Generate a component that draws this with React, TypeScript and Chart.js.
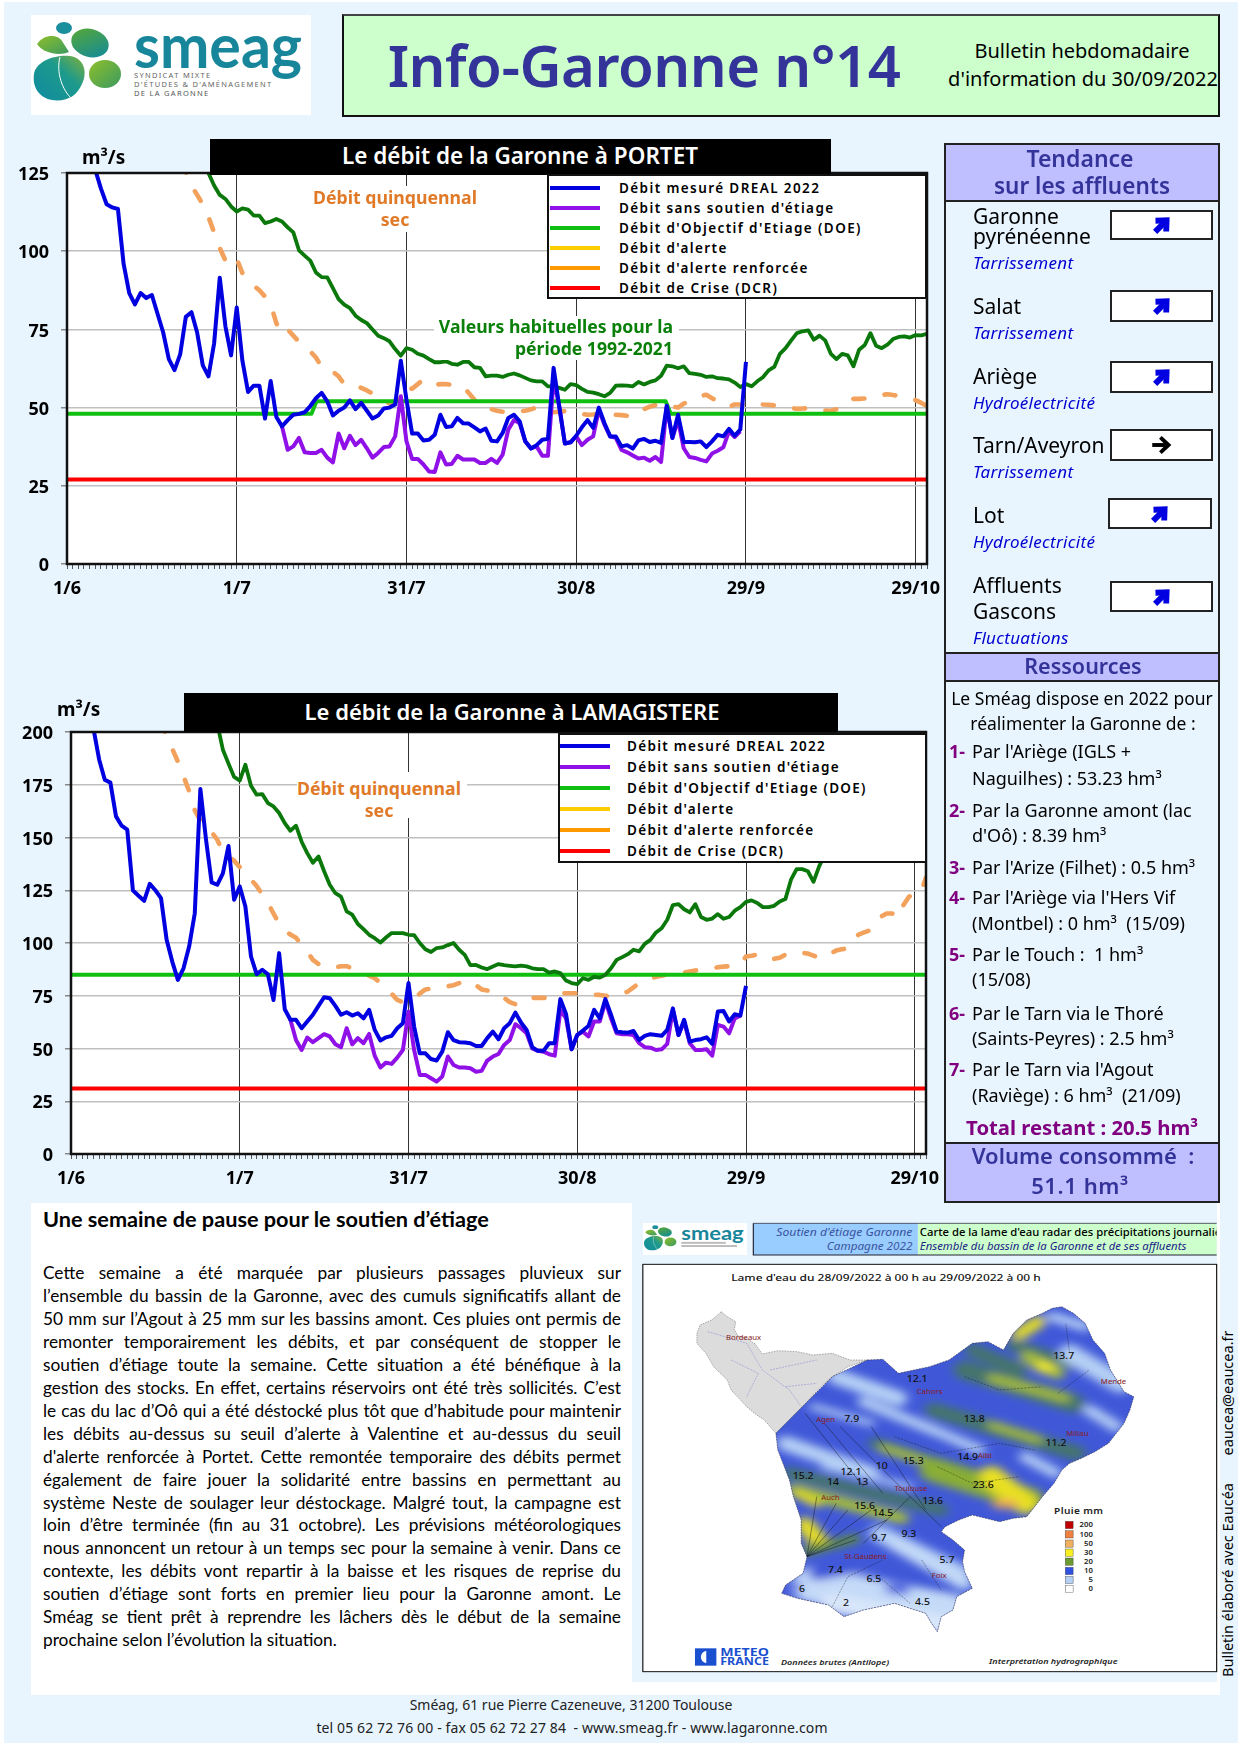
import React, { useEffect, useRef } from "react";
import { Chart, registerables } from "chart.js";
Chart.register(...registerables);

// ---------- DATA ----------
const tickDays = [0, 30, 60, 90, 120, 150];
const tickLabels = ["1/6", "1/7", "31/7", "30/8", "29/9", "29/10"];

const legendNames = ["Débit mesuré DREAL 2022", "Débit sans soutien d'étiage", "Débit d'Objectif d'Etiage (DOE)", "Débit d'alerte", "Débit d'alerte renforcée", "Débit de Crise (DCR)"];
const legendColors = ["#0000e0", "#9010e8", "#10c010", "#ffcc00", "#ff9900", "#ff0000"];

// Portet — each series starts on day offset given by its *Start
const portetBlueStart = 4;
const portetBlue = [134, 126, 120, 115, 114, 113.5, 96, 86.6, 83, 86.6, 85, 86, 80, 74, 65.5, 62, 67, 79, 80.5, 74, 63.5, 60, 70.5, 91.5, 76, 66.7, 82, 65, 55, 57, 57, 46.5, 58.5, 47, 44, 46, 47.7, 48, 48.5, 50.5, 53, 54.7, 52, 47.5, 49, 50, 52.3, 49.5, 51.5, 49, 46.5, 47.5, 49.7, 50, 51, 65, 52.5, 41.7, 41.7, 39.5, 39.7, 41.3, 47.7, 43.8, 44, 46.7, 45, 44.9, 43.7, 42.4, 43.3, 39.4, 39.2, 41.9, 46.7, 47.7, 45.6, 39.2, 36.9, 38, 39.7, 40, 62.7, 50.4, 38.5, 38.9, 41, 43.7, 46, 43.5, 50, 45, 40.8, 40.8, 37.6, 38, 36.9, 39.5, 40, 39, 39.4, 38.7, 50.6, 40.3, 47.7, 39, 39, 38.9, 39.2, 37.4, 39.2, 41.3, 40.8, 43.2, 41, 43, 64.6];
const portetPurpleStart = 38;
const portetPurple = [44, 36.5, 37.6, 40.3, 35.7, 35.5, 35.5, 36.5, 34, 32.5, 41.7, 37, 41, 38, 39.7, 37, 34, 35.5, 37.4, 37.6, 40.8, 53.6, 39.2, 33.6, 33.6, 31.8, 29.6, 29.4, 35.7, 31.8, 32, 34.6, 33.4, 33.4, 33.4, 32.3, 32.3, 33.6, 32.3, 35, 43, 46, 45, 39.2, 37, 37.6, 34.6, 34.6, 59, 50.4, 38.5, 38.9, 40.8, 38, 39.7, 40.8, 49.3, 44.5, 40.8, 40.3, 36.5, 35.7, 34.7, 33.7, 34, 33, 34.2, 32.6, 50.4, 40.3, 46, 37, 34.2, 33.9, 33.3, 32.8, 35.3, 36.2, 37.3, 42.4, 40.6, 42.4];
const portetHabStart = 24;
const portetHab = [130, 125, 121, 118, 116.7, 114.3, 112.7, 113.7, 113.3, 111.4, 111.4, 109, 109.5, 110.3, 109.5, 107.6, 106, 100.3, 98.6, 97, 93.2, 91.7, 91.6, 88.2, 84.7, 82.9, 81.8, 79.4, 78, 77, 75, 73, 72.2, 71.2, 68.7, 66.6, 69, 68.5, 67.2, 66.6, 65.5, 64.5, 64.5, 64.8, 64, 63.7, 64.6, 64.6, 62.9, 62.7, 60, 60.2, 60.2, 59.8, 60.5, 60.9, 60.3, 59.5, 58.7, 58.4, 58.4, 56.8, 56.8, 56.3, 55.7, 57.5, 57.2, 56, 55, 54.8, 54.3, 53.6, 54.7, 57, 57.1, 57, 56.8, 58.2, 57.4, 58.2, 58.7, 60.2, 63.4, 63.2, 62.6, 63.2, 61, 60.8, 60.5, 59.8, 60, 59.4, 59.3, 59, 58, 56.6, 57.5, 56.8, 58.4, 59.7, 61.9, 63, 67.2, 69, 71.5, 73.8, 74.4, 74.7, 71.7, 73, 71.5, 67.2, 65.5, 67.2, 66.7, 63.2, 68.5, 70, 73.8, 69.8, 69, 70.1, 71.9, 72.6, 72.8, 72.4, 73.2, 73.1, 73.6];
const portetQuinqStart = 20;
const portetQuinq = [128, 125.5, 121, 118, 115, 111, 106, 101, 97, 95.7, 97.5, 93, 91, 89, 87.5, 85.5, 83, 77, 73.6, 75, 73, 71, 69.5, 68, 66, 63, 62, 61.5, 60, 57.5, 57, 57, 56.3, 55.5, 54.5, 53.5, 52.5, 51.3, 52, 55.7, 56.5, 56, 57.5, 59, 58, 57.3, 57.5, 57.5, 57.3, 57, 56.8, 54.7, 52.5, 50.5, 50, 49.5, 49, 48.7, 48.5, 48.6, 48.8, 49, 49.5, 50, 50, 49, 48.5, 48.7, 48.9, 49, 48.6, 48, 47.7, 47.8, 48, 47.9, 47.8, 47.7, 47.6, 47.4, 47.2, 47.7, 49.5, 50.3, 50.8, 51, 51, 50.4, 50, 51.3, 52, 53, 53.7, 54.1, 53, 52, 50.8, 50.2, 51, 51, 50.7, 51, 51.3, 51, 50.9, 50.7, 50.6, 50.3, 49.9, 49.6, 49.7, 49.8, 49.9, 49.5, 49.1, 49, 49.5, 50.4, 52.3, 52.8, 52.8, 52.9, 53, 53.5, 54, 54.3, 54, 53.8, 53.6, 53, 52.4, 51.5, 50.5];
const portetDoeDays = [0, 43.2, 44.1, 105.8, 106.7, 152];
const portetDoe = [48, 48, 52, 52, 48, 48];
const portetDcrDays = [0, 152];
const portetDcr = [27, 27];

// Lamagistère
const lamaBlueStart = 3;
const lamaBlue = [215, 201.5, 187, 177.4, 176, 160, 155.6, 153.7, 125, 122.4, 120, 128, 125, 121.3, 101.5, 91.2, 82.5, 88, 98.3, 114, 173, 149, 128.7, 127.6, 133, 146, 120.5, 126.8, 117.3, 93.6, 85.2, 87.3, 85.2, 73, 95.2, 68.6, 63.6, 63.6, 59.6, 62.8, 66, 70.2, 74.3, 73.8, 70.2, 66, 67.2, 65.6, 66.7, 64.3, 68.3, 58.8, 53.8, 55.3, 56, 59.6, 62, 81, 60.4, 47.7, 47.7, 45, 44.3, 48.5, 57.7, 54, 53, 52.8, 52.5, 51.2, 51.2, 54.9, 58, 54.4, 59.6, 62, 67, 62.3, 58.8, 50.6, 48.9, 48.9, 52.5, 52.5, 73.4, 66.4, 49.6, 56.4, 58.5, 60.7, 68.3, 64.3, 73.4, 66, 58, 57.7, 57.5, 58.3, 54, 56, 56.8, 56.4, 56, 58.8, 69, 56.4, 63.6, 53.3, 54, 54.4, 55.3, 52.2, 67.5, 67.8, 62.8, 66.2, 65.6, 79.7];
const lamaPurpleStart = 39;
const lamaPurple = [63.6, 54, 49.3, 55.2, 53, 54.9, 56.8, 55.7, 52, 50.6, 59.6, 52, 54.9, 52.5, 56.9, 46.5, 41, 43.3, 42.7, 45.7, 49.3, 67.5, 49.3, 37.5, 37.5, 35.9, 34.3, 36.7, 46.2, 42.2, 41, 41, 40.6, 39, 39.4, 44.3, 46.2, 47.4, 51.7, 54, 61.5, 59.6, 57.2, 50, 48.9, 48.5, 47.3, 46.6, 68.3, 64.3, 49.6, 56.4, 58, 55.7, 62.8, 62.8, 72.3, 64.3, 57.2, 56.8, 56.8, 56.4, 52.5, 50.6, 50.4, 49.3, 49.6, 52.2, 68.3, 56.4, 62.8, 52.5, 49.3, 49.3, 49.6, 46.6, 61.2, 60.4, 57.2, 64.3, 65.5];
const lamaHabStart = 26;
const lamaHab = [204, 191.6, 185, 178.7, 177, 184.5, 174.5, 170.3, 170.6, 166.3, 164.7, 161.6, 156.8, 153.2, 155.6, 148, 142.6, 138, 141, 134, 127.6, 123.6, 122, 115, 113.4, 109, 106.6, 103.9, 102.3, 100.2, 102.6, 104.7, 104.7, 104.7, 103.9, 103.7, 100, 97, 95.7, 97.6, 97.9, 99, 100, 96.8, 94.4, 89.5, 89.6, 88.4, 87.6, 88.9, 90, 89.5, 89.2, 88.9, 89.3, 88.9, 88, 87.6, 87.6, 86, 86.5, 85.7, 82.2, 81, 80.5, 83.3, 82.5, 84, 83.6, 84.9, 88, 92, 93.3, 94.7, 96.8, 96, 99.6, 101.5, 105, 107, 111, 118, 118.4, 116, 114.5, 118.4, 112.3, 111, 111.6, 113.7, 111.5, 112.3, 115.3, 117, 119.5, 120.2, 119, 117, 117, 117.6, 119.7, 120.8, 130, 135, 135, 134, 129, 136.3, 142, 146];
const lamaQuinqStart = 16;
const lamaQuinq = [205, 198, 192, 186, 179, 172, 163, 158, 154, 152.5, 149, 143, 141, 139, 136, 132.6, 130, 127, 123, 119, 114, 109, 106, 104, 102.5, 99, 96, 92, 90, 89, 88.5, 88.5, 89, 89, 88, 87, 86, 84.5, 83.3, 81, 78.5, 76, 73, 72, 72.5, 73.5, 76, 78, 78.3, 78.6, 79, 79.5, 80, 81, 82, 82, 80, 78, 77.5, 77, 76.5, 74, 72, 71, 70.7, 72, 74, 74, 74, 74, 75, 76, 76.2, 76.2, 76.2, 76.2, 76, 75.5, 75.4, 75, 74.5, 75, 76, 77, 79, 81, 82, 83, 84, 84.5, 85, 85, 85.5, 86, 86.5, 87, 87.3, 87.8, 88.2, 88.5, 88.8, 89, 89.2, 90, 93.6, 94, 94.5, 94.9, 94, 92.5, 93, 94.5, 95.5, 95.5, 95.3, 95, 94, 93, 93, 95, 96.4, 97, 97.5, 101, 104, 105, 106, 110, 112.5, 114, 114, 112, 118, 122, 123, 123.3, 131];
const lamaDoeDays = [0, 152];
const lamaDoe = [85, 85];
const lamaDcrDays = [0, 152];
const lamaDcr = [31, 31];

// ---------- HELPERS ----------
const SANS = '"Noto Sans", sans-serif';
const PAGE = "#e8f5ff";
const NAVY = "#333399";

const fromStart = (start: number, vals: number[]) => vals.map((y, i) => ({ x: start + i, y }));
const fromDays = (days: number[], vals: number[]) => vals.map((y, i) => ({ x: days[i], y }));

function T({ x, y, children, size = 16, weight = 400, color = "#000", align = "left", ls = 0, italic = false, font = SANS, rot = 0, bg }: any) {
  const tx = align === "center" ? "-50%" : align === "right" ? "-100%" : "0";
  return (
    <div style={{ position: "absolute", left: x, top: y, transform: `translate(${tx},-50%)${rot ? ` rotate(${rot}deg)` : ""}`, whiteSpace: "pre", fontFamily: font, fontSize: size, fontWeight: weight, color, letterSpacing: ls, fontStyle: italic ? "italic" : "normal", lineHeight: 1.1, background: bg }}>
      {children}
    </div>
  );
}
const Box = ({ x, y, w, h, style }: any) => <div style={{ position: "absolute", left: x, top: y, width: w, height: h, boxSizing: "border-box", ...style }} />;

const framePlugin = {
  id: "frame",
  beforeDraw(c: any) {
    const a = c.chartArea;
    c.ctx.save();
    c.ctx.fillStyle = "#fff";
    c.ctx.fillRect(a.left, a.top, a.width, a.height);
    c.ctx.restore();
  },
  afterDraw(c: any) {
    const a = c.chartArea;
    const g = c.ctx;
    g.save();
    g.strokeStyle = "#111";
    g.lineWidth = 2.5;
    g.strokeRect(a.left, a.top, a.width, a.height);
    g.restore();
  },
};

function GarChart({ left, top, width, height, area, yMax, blue, purple, hab, quinq, doe, dcr }: any) {
  const ref = useRef<HTMLCanvasElement>(null);
  useEffect(() => {
    const line = (label: string, data: any[], color: string, w: number, extra: any = {}) => ({ type: "line", label, data, borderColor: color, backgroundColor: color, borderWidth: w, pointRadius: 0, tension: 0, borderJoinStyle: "round", ...extra });
    const chart = new Chart(ref.current as any, {
      type: "line",
      data: {
        datasets: [
          line(legendNames[0], blue, "#0000e0", 4),
          line(legendNames[1], purple, "#9010e8", 4),
          line("Valeurs habituelles 1992-2021", hab, "#0a780a", 3.8),
          line(legendNames[5], dcr, "#ff0000", 4),
          line(legendNames[2], doe, "#10c010", 4),
          line("Débit quinquennal sec", quinq, "#f2a25c", 4.6, { borderDash: [11, 20.6], borderCapStyle: "round" }),
        ] as any,
      },
      options: {
        animation: false,
        responsive: false,
        parsing: false as any,
        layout: { padding: { top: area.top, right: width - area.right, left: 0, bottom: 0 } },
        plugins: { legend: { display: false }, tooltip: { enabled: false } },
        scales: {
          x: {
            type: "linear",
            min: 0,
            max: 152,
            afterFit: (s: any) => { s.height = height - area.bottom; },
            afterBuildTicks: (s: any) => { const t = []; for (let d = 0; d <= 152; d++) t.push({ value: d }); s.ticks = t; },
            grid: {
              drawTicks: true,
              tickLength: 5,
              tickColor: "#555",
              color: (c: any) => (tickDays.includes(c.tick?.value) ? "#333" : "rgba(0,0,0,0)"),
              lineWidth: 1,
            },
            border: { display: false },
            ticks: {
              autoSkip: false,
              maxRotation: 0,
              padding: 9,
              color: "#000",
              font: { family: SANS, size: 18, weight: "bold" },
              callback: (v: any) => { const i = tickDays.indexOf(v); return i >= 0 ? tickLabels[i] : ""; },
            },
          },
          y: {
            min: 0,
            max: yMax,
            afterFit: (s: any) => { s.width = area.left; },
            grid: { color: "#c0c0c0", lineWidth: 1.5, tickLength: 6, tickColor: "#888" },
            border: { display: false },
            ticks: { stepSize: 25, color: "#000", padding: 12, labelOffset: 2, font: { family: SANS, size: 18, weight: "bold" } },
          },
        },
      },
      plugins: [framePlugin],
    } as any);
    return () => chart.destroy();
  }, []);
  return <canvas ref={ref} width={width} height={height} style={{ position: "absolute", left, top, width, height }} />;
}

function Legend({ x, y, w, h, rows, swX, txtX, ls }: any) {
  return (
    <>
      <Box x={x} y={y} w={w} h={h} style={{ background: "#fff", border: "2.5px solid #111" }} />
      {legendNames.map((n, i) => (
        <React.Fragment key={n}>
          <Box x={swX} y={rows[i] - 2.5} w={50} h={4} style={{ background: legendColors[i] }} />
          <T x={txtX} y={rows[i]} size={13.5} weight={600} ls={ls}>{n}</T>
        </React.Fragment>
      ))}
    </>
  );
}

function Logo({ x, y, w, h, full = true }: any) {
  const id = full ? "a" : "b";
  return (
    <svg style={{ position: "absolute", left: x, top: y, width: w, height: h }} viewBox="31 15 280 100" preserveAspectRatio="none">
      <defs>
        <linearGradient id={id + "g1"} x1="0" y1="1" x2="1" y2="0"><stop offset="0" stopColor="#0f8aa0" /><stop offset="0.6" stopColor="#1d9a8c" /><stop offset="1" stopColor="#80b038" /></linearGradient>
        <linearGradient id={id + "g2"} x1="0" y1="0" x2="1" y2="1"><stop offset="0" stopColor="#8fbf2a" /><stop offset="1" stopColor="#3a9a60" /></linearGradient>
        <linearGradient id={id + "g3"} x1="0" y1="0" x2="1" y2="1"><stop offset="0" stopColor="#5aaa30" /><stop offset="1" stopColor="#0f88a0" /></linearGradient>
      </defs>
      <rect x="31" y="15" width="280" height="100" fill="#fff" />
      <path d="M34 74C36 60 58 54 70 56C84 58 88 72 82 84C76 98 64 102 52 100C40 98 32 88 34 74Z" fill={`url(#${id}g1)`} />
      <path d="M60 57C56 72 62 90 72 99" stroke="#fff" strokeWidth="1" fill="none" />
      <ellipse cx="105" cy="74" rx="16" ry="14" fill={`url(#${id}g2)`} />
      <ellipse cx="90" cy="43" rx="19" ry="14" transform="rotate(15 90 43)" fill={`url(#${id}g3)`} />
      <path d="M37 44C45 33 58 35 62 41L69 52C60 56 44 54 37 44Z" fill={`url(#${id}g2)`} />
      <ellipse cx="64" cy="28" rx="8" ry="6" fill="#1b8f9c" />
      <text x="134" y="68" fontFamily="Lato" fontWeight="700" fontSize="62" fill="#17869b" textLength="168" lengthAdjust="spacingAndGlyphs">smeag</text>
      {full ? <>
        <text x="134" y="78" fontFamily={SANS} fontSize="7.5" fill="#666" letterSpacing="1.3">SYNDICAT MIXTE</text>
        <text x="134" y="87" fontFamily={SANS} fontSize="7.5" fill="#666" letterSpacing="1.3">D'ÉTUDES &amp; D'AMÉNAGEMENT</text>
        <text x="134" y="96" fontFamily={SANS} fontSize="7.5" fill="#555" letterSpacing="1.3">DE LA GARONNE</text>
      </> : <>
        <rect x="134" y="74" width="120" height="6" fill="#bbb" />
        <rect x="134" y="84" width="150" height="6" fill="#bbb" />
      </>}
    </svg>
  );
}

function Arrow({ x, y, dark = false }: any) {
  return (
    <svg style={{ position: "absolute", left: x - 13, top: y - 13, width: 26, height: 26 }} viewBox="0 0 24 24">
      <g transform={dark ? "" : "rotate(-45 12 12)"} fill="none" stroke={dark ? "#000" : "#0000e0"} strokeWidth={dark ? 3.6 : 5.4}>
        <path d="M3 12H18" />
        <path d="M10.5 5L18 12L10.5 19" />
      </g>
    </svg>
  );
}

const affluents = [
  { lines: [["Garonne", 217], ["pyrénéenne", 237]], sub: "Tarrissement", subY: 263, box: [1110, 210, 103, 30], ax: 1162, ay: 225 },
  { lines: [["Salat", 307]], sub: "Tarrissement", subY: 333, box: [1110, 290, 103, 32], ax: 1162, ay: 306 },
  { lines: [["Ariège", 377]], sub: "Hydroélectricité", subY: 403, box: [1110, 361, 103, 32], ax: 1162, ay: 377 },
  { lines: [["Tarn/Aveyron", 446]], sub: "Tarrissement", subY: 472, box: [1110, 429, 103, 32], ax: 1162, ay: 445, dark: true },
  { lines: [["Lot", 516]], sub: "Hydroélectricité", subY: 542, box: [1108, 498, 104, 31], ax: 1160, ay: 514 },
  { lines: [["Affluents", 586], ["Gascons", 612]], sub: "Fluctuations", subY: 638, box: [1110, 581, 103, 31], ax: 1162, ay: 597 },
];

const resourceLines: [string, string, number][] = [
  ["1-", "Par l'Ariège (IGLS +", 752], ["", "Naguilhes) : 53.23 hm³", 779],
  ["2-", "Par la Garonne amont (lac", 811], ["", "d'Oô) : 8.39 hm³", 836],
  ["3-", "Par l'Arize (Filhet) : 0.5 hm³", 868],
  ["4-", "Par l'Ariège via l'Hers Vif", 898], ["", "(Montbel) : 0 hm³  (15/09)", 924],
  ["5-", "Par le Touch :  1 hm³", 955], ["", "(15/08)", 980],
  ["6-", "Par le Tarn via le Thoré", 1014], ["", "(Saints-Peyres) : 2.5 hm³", 1039],
  ["7-", "Par le Tarn via l'Agout", 1070], ["", "(Raviège) : 6 hm³  (21/09)", 1096],
];

const bodyLines = [
  "Cette semaine a été marquée par plusieurs passages pluvieux sur",
  "l’ensemble du bassin de la Garonne, avec des cumuls significatifs allant de",
  "50 mm sur l’Agout à 25 mm sur les bassins amont. Ces pluies ont permis de",
  "remonter temporairement les débits, et par conséquent de stopper le",
  "soutien d’étiage toute la semaine. Cette situation a été bénéfique à la",
  "gestion des stocks. En effet, certains réservoirs ont été très sollicités. C’est",
  "le cas du lac d’Oô qui a été déstocké plus tôt que d’habitude pour maintenir",
  "les débits au-dessus su seuil d’alerte à Valentine et au-dessus du seuil",
  "d'alerte renforcée à Portet. Cette remontée temporaire des débits permet",
  "également de faire jouer la solidarité entre bassins en permettant au",
  "système Neste de soulager leur déstockage. Malgré tout, la campagne est",
  "loin d’être terminée (fin au 31 octobre). Les prévisions météorologiques",
  "nous annoncent un retour à un temps sec pour la semaine à venir. Dans ce",
  "contexte, les débits vont repartir à la baisse et les risques de reprise du",
  "soutien d’étiage sont forts en premier lieu pour la Garonne amont. Le",
  "Sméag se tient prêt à reprendre les lâchers dès le début de la semaine",
  "prochaine selon l’évolution la situation.",
];

const basinGray = "235,305 250,320 272,335 268,358 278,378 300,385 322,402 340,432 380,422 430,425 470,435 520,430 565,450 610,450 560,470 520,500 490,530 460,570 445,590 430,605 400,640 375,670 345,630 322,612 300,590 280,565 260,540 250,510 215,470 195,430 172,400 172,370 180,345 210,330";
const basinMain = "610,450 650,448 690,490 730,480 770,470 820,450 880,400 920,395 960,420 985,370 1020,330 1060,310 1085,295 1110,290 1140,310 1170,340 1190,390 1220,430 1235,480 1270,545 1295,560 1285,600 1270,640 1250,670 1230,700 1195,725 1160,745 1130,760 1110,780 1090,820 1060,860 1040,890 1020,920 985,925 950,935 915,925 880,915 845,930 810,950 800,965 830,990 860,1020 855,1055 860,1085 880,1135 840,1160 830,1200 800,1220 790,1265 775,1240 760,1210 720,1195 680,1180 640,1190 600,1200 550,1220 510,1185 470,1175 430,1165 390,1150 400,1125 445,1090 455,1040 440,1000 440,930 420,860 410,810 395,765 380,720 375,670 430,605 460,570 520,500";
const rainBands: [number, number, number, number, string, number][] = [
  [530, 500, 690, 565, "#b5d0f5", 46], [600, 575, 790, 665, "#b5d0f5", 30], [800, 670, 900, 720, "#b5d0f5", 28], [470, 590, 620, 640, "#b5d0f5", 18],
  [400, 700, 620, 790, "#b5d0f5", 45], [500, 770, 720, 830, "#b5d0f5", 18],
  [410, 790, 800, 900, "#45756a", 36], [630, 700, 900, 800, "#45756a", 34], [650, 715, 800, 770, "#a8c030", 24],
  [780, 780, 1030, 870, "#89ad35", 70], [930, 800, 1015, 880, "#e8e020", 64],
  [780, 600, 1150, 730, "#45756a", 44], [930, 645, 1050, 690, "#a8c030", 22],
  [860, 480, 1140, 580, "#45756a", 56], [930, 505, 1120, 565, "#a8c030", 24], [880, 420, 1000, 480, "#45756a", 40],
  [1000, 372, 1050, 335, "#e8e020", 36], [985, 405, 1130, 460, "#45756a", 36], [1020, 440, 1100, 490, "#a8c030", 34], [1055, 470, 1075, 475, "#f0ec20", 32],
  [1085, 320, 1170, 350, "#b5d0f5", 28], [1130, 430, 1260, 520, "#b5d0f5", 56], [1180, 600, 1250, 650, "#b5d0f5", 32], [1015, 740, 1095, 790, "#b5d0f5", 30],
  [420, 840, 700, 925, "#a8c030", 34], [430, 850, 480, 880, "#e8e020", 24], [450, 945, 490, 1000, "#e8e020", 46], [450, 1025, 580, 985, "#5d8a40", 28],
  [470, 1125, 820, 1205, "#c4daf8", 110], [640, 970, 850, 1090, "#b5d0f5", 50], [520, 1180, 820, 1250, "#d8e6fa", 60], [680, 1000, 860, 1120, "#c4daf8", 40],
  [670, 1135, 705, 1140, "#4a60e0", 30], [400, 1135, 430, 1130, "#4a60e0", 24], [480, 1090, 600, 1065, "#4058d8", 42],
];
const mapNumbers: [string, number, number][] = [["12.1", 738, 507], ["13.7", 1115, 437], ["7.9", 570, 628], ["13.8", 885, 628], ["11.2", 1095, 700], ["14.9", 868, 740], ["15.3", 728, 752], ["10", 647, 768], ["12.1", 568, 785], ["15.2", 445, 797], ["14", 522, 817], ["13", 597, 817], ["23.6", 908, 825], ["13.6", 778, 873], ["15.6", 603, 887], ["14.5", 650, 910], ["9.3", 717, 972], ["9.7", 640, 985], ["5.7", 815, 1050], ["7.4", 528, 1080], ["6.5", 627, 1107], ["6", 442, 1137], ["2", 555, 1180], ["4.5", 752, 1175]];
const mapCities: [string, number, number][] = [["Bordeaux", 292, 383], ["Cahors", 770, 545], ["Mende", 1243, 515], ["Agen", 503, 628], ["Millau", 1150, 670], ["Albi", 912, 737], ["Auch", 515, 862], ["Toulouse", 722, 836], ["St-Gaudens", 605, 1040], ["Foix", 795, 1097]];
const rainScale: [string, string][] = [["200", "#c00000"], ["100", "#f08040"], ["50", "#f0b060"], ["30", "#f8f020"], ["20", "#6a9a30"], ["10", "#3050e0"], ["5", "#b5d0f5"], ["0", "#ffffff"]];
const rainY = [945, 973, 1001, 1028, 1055, 1083, 1110, 1137];

function RainMap() {
  return (
    <svg style={{ position: "absolute", left: 630, top: 1210, width: 610, height: 480 }} viewBox="0 0 1568 1440" preserveAspectRatio="none">
      <defs>
        <clipPath id="bas"><polygon points={basinMain} /></clipPath>
        <clipPath id="hdr"><rect x="0" y="0" width="1508" height="160" /></clipPath>
        <filter id="soft" x="-20%" y="-20%" width="140%" height="140%"><feGaussianBlur stdDeviation="13" /></filter>
      </defs>
      <rect x="33" y="163" width="1475" height="1222" fill="#fff" stroke="#111" strokeWidth="3" />
      <rect x="317" y="40" width="423" height="95" fill="#99ccff" />
      <rect x="740" y="40" width="768" height="95" fill="#ccffcc" />
      <path d="M317 40V135H1508" stroke="#223" strokeWidth="3" fill="none" />
      <path d="M317 40H1508" stroke="#223" strokeWidth="2" fill="none" />
      <g clipPath="url(#hdr)" fontFamily={SANS} fontSize="30">
        <text x="726" y="78" textAnchor="end" fontStyle="italic" fill="#3a55a0" textLength="350" lengthAdjust="spacingAndGlyphs">Soutien d'étiage Garonne</text>
        <text x="726" y="121" textAnchor="end" fontStyle="italic" fill="#3a55a0" textLength="220" lengthAdjust="spacingAndGlyphs">Campagne 2022</text>
        <text x="745" y="78" fontWeight="500" fill="#000" textLength="817" lengthAdjust="spacingAndGlyphs">Carte de la lame d'eau radar des précipitations journalières</text>
        <text x="745" y="121" fontStyle="italic" fill="#228" textLength="685" lengthAdjust="spacingAndGlyphs">Ensemble du bassin de la Garonne et de ses affluents</text>
      </g>
      <text x="260" y="212" fontFamily={SANS} fontSize="28" fontWeight="500" fill="#111" textLength="796" lengthAdjust="spacingAndGlyphs">Lame d'eau du 28/09/2022 à 00 h au 29/09/2022 à 00 h</text>
      <polygon points={basinGray} fill="#dcdcdc" stroke="#666" strokeDasharray="4 3" strokeWidth="1.5" />
      <g stroke="#6a6ad0" strokeWidth="1.2" fill="none" strokeDasharray="5 3">
        <path d="M200 365L300 400L340 480L410 540L440 590M260 450L330 490L300 560M360 480L480 450M400 530L480 520" />
      </g>
      <polygon points={basinMain} fill="#4058d8" />
      <g clipPath="url(#bas)">
        <g filter="url(#soft)">
          {rainBands.map((b, i) => <line key={i} x1={b[0]} y1={b[1]} x2={b[2]} y2={b[3]} stroke={b[4]} strokeWidth={b[5]} strokeLinecap="round" />)}
          <ellipse cx="965" cy="882" rx="36" ry="14" fill="#f0a850" />
        </g>
      </g>
      <polygon points={basinMain} fill="none" stroke="#223" strokeDasharray="5 3" strokeWidth="1.5" />
      <g stroke="#111" strokeWidth="1.2" fill="none">
        <path d="M455 1040L580 990M455 1040L530 880M455 1040L480 860M455 1040L560 900M455 1040L620 900M455 1040L660 930M540 650L720 860M620 650L760 900M450 610L600 830M500 640L650 850M720 860L800 950M720 860L600 1000" />
        <path d="M860 500L950 540L1060 530M680 680L800 730L950 700L1040 720M790 770L880 820L1000 800M1100 550L1180 480M1130 430L1120 340M520 1190L560 1100L650 1050M640 1100L720 1180M750 1050L800 1140" strokeDasharray="6 3" strokeWidth="1" />
      </g>
      <g fontFamily={SANS} fontSize="27" fill="#111" fontWeight="500" textAnchor="middle">
        {mapNumbers.map((n, i) => <text key={i} x={n[1]} y={n[2] + 9}>{n[0]}</text>)}
      </g>
      <g fontFamily={SANS} fontSize="20" fill="#8a1c1c" textAnchor="middle">
        {mapCities.map((n, i) => <text key={i} x={n[1]} y={n[2] + 7}>{n[0]}</text>)}
      </g>
      <text x="1090" y="912" fontFamily={SANS} fontSize="26" fontWeight="600" fill="#222" textLength="126" lengthAdjust="spacing">Pluie mm</text>
      {rainScale.map((r, i) => (
        <g key={r[0]}>
          <rect x="1119" y={rainY[i] - 11} width="20" height="22" fill={r[1]} stroke="#333" />
          <text x="1190" y={rainY[i] + 7} textAnchor="end" fontFamily={SANS} fontSize="20" fontWeight="600" fill="#222">{r[0]}</text>
        </g>
      ))}
      <rect x="167" y="1315" width="55" height="52" fill="#1a50d0" />
      <path d="M196 1322A20 20 0 0 0 196 1360Z" fill="#fff" />
      <text x="232" y="1338" fontFamily={SANS} fontSize="30" fontWeight="700" fill="#1a50d0" textLength="125" lengthAdjust="spacingAndGlyphs">METEO</text>
      <text x="232" y="1366" fontFamily={SANS} fontSize="30" fontWeight="700" fill="#1a50d0" textLength="125" lengthAdjust="spacingAndGlyphs">FRANCE</text>
      <text x="388" y="1366" fontFamily={SANS} fontSize="21" fontStyle="italic" fontWeight="600" fill="#222" textLength="278" lengthAdjust="spacingAndGlyphs">Données brutes (Antilope)</text>
      <text x="923" y="1363" fontFamily={SANS} fontSize="21" fontStyle="italic" fontWeight="600" fill="#222" textLength="330" lengthAdjust="spacingAndGlyphs">Interprétation hydrographique</text>
    </svg>
  );
}

export default function App() {
  useEffect(() => {
    document.body.style.margin = "0";
    document.body.style.background = "#fff";
  }, []);
  return (
    <div style={{ position: "relative", width: 1240, height: 1754, background: "#fff", overflow: "hidden" }}>
      <Box x={4} y={2} w={1234} h={1741} style={{ background: PAGE }} />

      {/* Header */}
      <Logo x={31} y={15} w={280} h={100} />
      <Box x={342} y={14} w={878} h={103} style={{ background: "#ccffcc", border: "2px solid #111", borderTopColor: "#444" }} />
      <T x={644} y={65} size={58} weight={600} color={NAVY} align="center" ls={-0.5}>Info-Garonne n°14</T>
      <T x={1082} y={51} size={20} align="center">Bulletin hebdomadaire</T>
      <T x={1083} y={79} size={20} align="center">d'information du 30/09/2022</T>

      {/* Portet */}
      <GarChart left={0} top={130} width={945} height={480} area={{ left: 67, top: 43, right: 927, bottom: 434 }} yMax={125}
        blue={fromStart(portetBlueStart, portetBlue)} purple={fromStart(portetPurpleStart, portetPurple)} hab={fromStart(portetHabStart, portetHab)} quinq={fromStart(portetQuinqStart, portetQuinq)} doe={fromDays(portetDoeDays, portetDoe)} dcr={fromDays(portetDcrDays, portetDcr)} />
      <Box x={210} y={139} w={621} h={36} style={{ background: "#000" }} />
      <T x={520} y={156} size={22.5} weight={600} color="#fff" align="center">Le débit de la Garonne à PORTET</T>
      <T x={82} y={157} size={19} weight={700}>m³/s</T>
      <Legend x={547} y={174} w={380} h={125} rows={[188, 208, 228, 248, 268, 288]} swX={550} txtX={619} ls={1.4} />
      <Box x={313} y={186} w={165} h={46} style={{ background: "#fff" }} />
      <T x={395} y={198} size={17.7} weight={700} color="#e07a28" align="center">Débit quinquennal</T>
      <T x={395} y={220} size={17.7} weight={700} color="#e07a28" align="center">sec</T>
      <Box x={434} y={316} w={245} h={44} style={{ background: "#fff" }} />
      <T x={673} y={327} size={17.6} weight={700} color="#0a800a" align="right">Valeurs habituelles pour la</T>
      <T x={673} y={349} size={17.6} weight={700} color="#0a800a" align="right">période 1992-2021</T>

      {/* Lamagistere */}
      <GarChart left={0} top={690} width={945} height={510} area={{ left: 71, top: 42, right: 926, bottom: 464 }} yMax={200}
        blue={fromStart(lamaBlueStart, lamaBlue)} purple={fromStart(lamaPurpleStart, lamaPurple)} hab={fromStart(lamaHabStart, lamaHab)} quinq={fromStart(lamaQuinqStart, lamaQuinq)} doe={fromDays(lamaDoeDays, lamaDoe)} dcr={fromDays(lamaDcrDays, lamaDcr)} />
      <Box x={184} y={693} w={654} h={39} style={{ background: "#000" }} />
      <T x={512} y={711} size={22} weight={600} color="#fff" align="center">Le débit de la Garonne à LAMAGISTERE</T>
      <T x={57} y={709} size={19} weight={700}>m³/s</T>
      <Legend x={558} y={733} w={369} h={130} rows={[746, 767, 788, 809, 830, 851]} swX={560} txtX={627} ls={1.3} />
      <Box x={297} y={772} w={170} h={46} style={{ background: "#fff" }} />
      <T x={379} y={789} size={17.7} weight={700} color="#e07a28" align="center">Débit quinquennal</T>
      <T x={379} y={811} size={17.7} weight={700} color="#e07a28" align="center">sec</T>

      {/* Right panel */}
      <Box x={944} y={143} w={276} h={1060} style={{ border: "2px solid #222" }} />
      <Box x={944} y={143} w={276} h={59} style={{ background: "#bfbfff", border: "2px solid #222" }} />
      <T x={1080} y={159} size={23} weight={600} color={NAVY} align="center">Tendance</T>
      <T x={1082} y={186} size={22.5} weight={600} color={NAVY} align="center">sur les affluents</T>
      {affluents.map((a, i) => (
        <React.Fragment key={i}>
          {a.lines.map((l: any) => <T key={l[0]} x={973} y={l[1]} size={21}>{l[0]}</T>)}
          <T x={973} y={a.subY} size={17} italic color="#0000d0" ls={0.3}>{a.sub}</T>
          <Box x={a.box[0]} y={a.box[1]} w={a.box[2]} h={a.box[3]} style={{ background: "#fff", border: "2px solid #222" }} />
          <Arrow x={a.ax} y={a.ay} dark={a.dark} />
        </React.Fragment>
      ))}
      <Box x={944} y={652} w={276} h={30} style={{ background: "#bfbfff", border: "2px solid #222" }} />
      <T x={1083} y={666} size={21.5} weight={600} color={NAVY} align="center">Ressources</T>
      <T x={1082} y={699} size={17.5} align="center">Le Sméag dispose en 2022 pour</T>
      <T x={1083} y={724} size={17.5} align="center">réalimenter la Garonne de :</T>
      {resourceLines.map((r, i) => (
        <React.Fragment key={i}>
          {r[0] && <T x={949} y={r[2]} size={18} weight={700} color="#800080">{r[0]}</T>}
          <T x={972} y={r[2]} size={18}>{r[1]}</T>
        </React.Fragment>
      ))}
      <T x={1082} y={1127} size={20.3} weight={700} color="#800080" align="center">Total restant : 20.5 hm³</T>
      <Box x={944} y={1142} w={276} h={61} style={{ background: "#bfbfff", border: "2px solid #222" }} />
      <T x={1083} y={1155} size={22} weight={600} color={NAVY} align="center">Volume consommé  :</T>
      <T x={1080} y={1185} size={22} weight={600} color={NAVY} align="center" ls={0.6}>51.1 hm³</T>

      {/* Article */}
      <Box x={31} y={1203} w={601} h={492} style={{ background: "#fff" }} />
      <T x={43} y={1220} size={21.7} weight={700} font="Lato">Une semaine de pause pour le soutien d’étiage</T>
      {bodyLines.map((l, i) => (
        <div key={i} style={{ position: "absolute", left: 43, top: 1273 + i * 22.95, width: 578, transform: "translateY(-50%)", fontFamily: "Lato", fontSize: 17.3, lineHeight: 1.1, textAlign: i === bodyLines.length - 1 ? "left" : "justify", textAlignLast: i === bodyLines.length - 1 ? "left" : "justify", whiteSpace: "normal", color: "#000" }}>{l}</div>
      ))}

      {/* Map panel */}
      <Box x={1217} y={1203} w={3} h={492} style={{ background: "#fff" }} />
      <Box x={632} y={1682} w={588} h={13} style={{ background: "#fff" }} />
      <Logo x={643} y={1223} w={104} h={32} full={false} />
      <RainMap />
      <T x={1228} y={1580} size={14.5} align="center" rot={-90}>Bulletin élaboré avec Eaucéa</T>
      <T x={1228} y={1393} size={14.5} align="center" rot={-90}>eaucea@eaucea.fr</T>

      {/* Footer */}
      <T x={571} y={1705} size={14} color="#222" align="center">Sméag, 61 rue Pierre Cazeneuve, 31200 Toulouse</T>
      <T x={572} y={1728} size={14} color="#222" align="center" ls={0.12}>tel 05 62 72 76 00 - fax 05 62 72 27 84  - www.smeag.fr - www.lagaronne.com</T>
    </div>
  );
}
